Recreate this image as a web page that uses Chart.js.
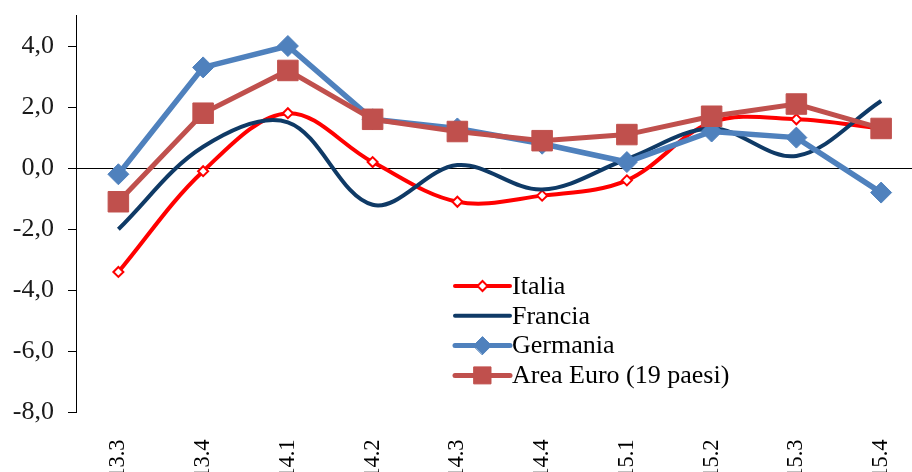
<!DOCTYPE html>
<html>
<head>
<meta charset="utf-8">
<script src="https://cdn.jsdelivr.net/npm/chart.js@4"></script>
<style>
  html, body { margin: 0; padding: 0; background: #fff; overflow: hidden; }
  #wrap { width: 939px; height: 480px; }
</style>
</head>
<body>
<div id="wrap"><canvas id="chart" width="939" height="480"></canvas></div>
<script>
const quarters  = ['13.3', '13.4', '14.1', '14.2', '14.3', '14.4', '15.1', '15.2', '15.3', '15.4'];
const italia    = [-3.4, -0.1, 1.8, 0.2, -1.1, -0.9, -0.4, 1.5, 1.6, 1.3];
const francia   = [-2.0, 0.7, 1.5, -1.2, 0.1, -0.7, 0.3, 1.3, 0.4, 2.2];
const germania  = [-0.2, 3.3, 4.0, 1.6, 1.3, 0.8, 0.2, 1.2, 1.0, -0.8];
const areaEuro  = [-1.1, 1.8, 3.2, 1.6, 1.2, 0.9, 1.1, 1.7, 2.1, 1.3];
const yTicks    = [-8, -6, -4, -2, 0, 2, 4];

const serif = 'Liberation Serif, Times New Roman, serif';

// legend inside the plot, drawn by hand like the Excel one
const legendItems = [
  { label: 'Italia',                 color: '#ff0000', width: 4, style: 'rectRot', radius: 5,  fill: '#ffffff', border: 2 },
  { label: 'Francia',                color: '#0f3a66', width: 4, style: false },
  { label: 'Germania',               color: '#4f81bd', width: 5, style: 'rectRot', radius: 9,  fill: '#4f81bd', border: 1 },
  { label: 'Area Euro (19 paesi)',   color: '#c0504d', width: 5, style: 'rect',    radius: 12, fill: '#c0504d', border: 1 }
];

const legendPlugin = {
  id: 'innerLegend',
  afterDraw(chart) {
    const ctx = chart.ctx;
    const x0 = 455, x1 = 510, y0 = 286, step = 29.8;
    ctx.save();
    legendItems.forEach((it, i) => {
      const y = y0 + i * step;
      ctx.strokeStyle = it.color;
      ctx.lineWidth = it.width;
      ctx.lineCap = 'round';
      ctx.beginPath();
      ctx.moveTo(x0, y);
      ctx.lineTo(x1, y);
      ctx.stroke();
      if (it.style) {
        ctx.fillStyle = it.fill;
        ctx.strokeStyle = it.color;
        ctx.lineWidth = it.border;
        Chart.helpers.drawPoint(ctx, { pointStyle: it.style, radius: it.radius, rotation: 0, borderWidth: it.border }, (x0 + x1) / 2, y);
      }
      ctx.fillStyle = '#000';
      ctx.font = '26px ' + serif;
      ctx.textBaseline = 'middle';
      ctx.textAlign = 'left';
      ctx.fillText(it.label, x1 + 2, y + 1);
    });
    ctx.restore();
  }
};

new Chart(document.getElementById('chart'), {
  type: 'line',
  data: {
    labels: quarters,
    datasets: [
      {
        label: 'Italia', data: italia, order: 4,
        borderColor: '#ff0000', borderWidth: 4, tension: 0.35,
        pointStyle: 'rectRot', pointRadius: 5, pointBackgroundColor: '#ffffff',
        pointBorderColor: '#ff0000', pointBorderWidth: 2
      },
      {
        label: 'Francia', data: francia, order: 3,
        borderColor: '#0f3a66', borderWidth: 4, tension: 0.35,
        pointRadius: 0
      },
      {
        label: 'Germania', data: germania, order: 2,
        borderColor: '#4f81bd', borderWidth: 5.5, tension: 0,
        pointStyle: 'rectRot', pointRadius: 10.5, pointBackgroundColor: '#4f81bd',
        pointBorderColor: '#4f81bd', pointBorderWidth: 1
      },
      {
        label: 'Area Euro (19 paesi)', data: areaEuro, order: 1,
        borderColor: '#c0504d', borderWidth: 5, tension: 0,
        pointStyle: 'rect', pointRadius: 14.5, pointBackgroundColor: '#c0504d',
        pointBorderColor: '#c0504d', pointBorderWidth: 1
      }
    ]
  },
  options: {
    responsive: false,
    animation: false,
    layout: { padding: { top: 14, right: 3, left: 0, bottom: 0 } },
    plugins: {
      legend: { display: false },
      tooltip: { enabled: false }
    },
    scales: {
      x: {
        offset: true,
        grid: { display: false },
        border: { display: false },
        afterFit: s => { s.height = 67.6; s.paddingLeft = 0; s.paddingRight = 0; },
        ticks: {
          autoSkip: false, minRotation: 90, maxRotation: 90, padding: 19,
          color: '#000', font: { family: serif, size: 22.5 }
        }
      },
      y: {
        min: -8, max: 5,
        afterBuildTicks: s => { s.ticks = yTicks.map(v => ({ value: v })); },
        afterFit: s => { s.width = 76; s.paddingTop = 0; s.paddingBottom = 0; },
        border: { display: true, color: '#000', width: 1 },
        grid: {
          drawOnChartArea: true,
          color: c => (c.tick && c.tick.value === 0) ? '#000' : 'rgba(0,0,0,0)',
          tickColor: '#000',
          tickLength: 8,
          lineWidth: 1
        },
        ticks: {
          padding: 14, color: '#1a1a1a', font: { family: serif, size: 26 },
          callback: v => v.toFixed(1).replace('.', ',')
        }
      }
    }
  },
  plugins: [legendPlugin]
});
</script>
</body>
</html>
